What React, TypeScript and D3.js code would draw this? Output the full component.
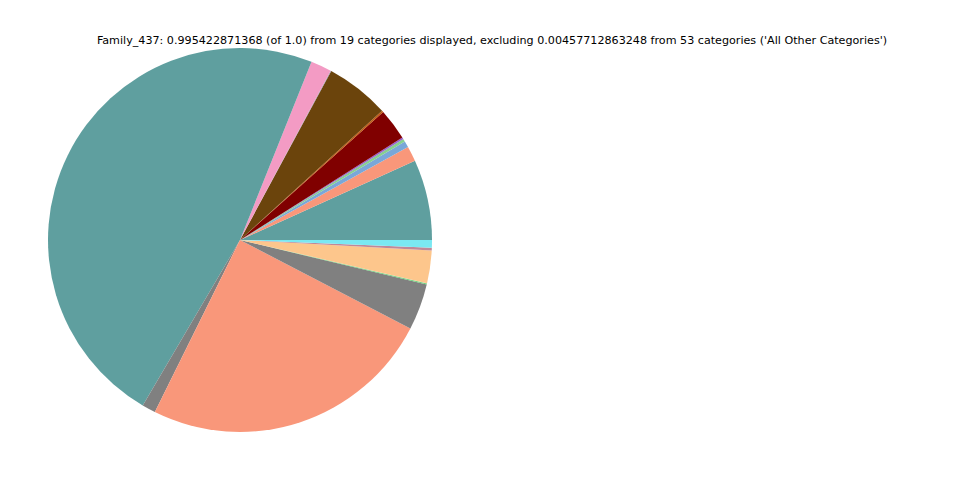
import React from "react";
import * as d3 from "d3";

const categories = [
  "C1", "C2", "C3", "C4", "C5", "C6", "C7", "C8", "C9", "C10",
  "C11", "C12", "C13", "C14", "C15", "C16", "C17", "C18", "C19",
];
const values = [
  24.3, 4.6, 1.9, 0.9, 0.5, 9.5, 0.5, 19.3, 0.2, 6.3,
  171.1, 4.1, 88.7, 14.0, 0.3, 0.1, 9.9, 0.8, 2.3,
];
const colors = [
  "#5f9f9f", "#f9977a", "#7aa7d8", "#86cf8f", "#9a5fd0", "#800000", "#c25a12", "#6b440c", "#8f8f9f", "#f39bc4",
  "#5f9f9f", "#808080", "#f9977a", "#808080", "#6ccf7a", "#a0d0a0", "#fdc68c", "#c08898", "#7ae8f2",
];
const title =
  "Family_437: 0.995422871368 (of 1.0) from 19 categories displayed, excluding 0.00457712863248 from 53 categories ('All Other Categories')";

export default function App() {
  const W = 960, H = 480;
  const cx = 240, cy = 240, r = 192;
  const data = categories.map((c, i) => ({ c, v: values[i], color: colors[i] }));
  const pie = d3
    .pie<{ c: string; v: number; color: string }>()
    .value((d) => d.v)
    .sort(null)
    .startAngle(Math.PI / 2)
    .endAngle(Math.PI / 2 - 2 * Math.PI);
  const arc = d3.arc<d3.PieArcDatum<{ c: string; v: number; color: string }>>().innerRadius(0).outerRadius(r);
  const arcs = pie(data);
  return (
    <svg width={W} height={H} style={{ position: "absolute", left: 0, top: 0, background: "#fff" }}>
      <text x={492} y={44} textAnchor="middle" fontFamily="DejaVu Sans" fontSize={11.15} fill="#000">
        {title}
      </text>
      <g transform={`translate(${cx},${cy})`}>
        {arcs.map((a, i) => (
          <path key={i} d={arc(a) || ""} fill={a.data.color} />
        ))}
      </g>
    </svg>
  );
}
